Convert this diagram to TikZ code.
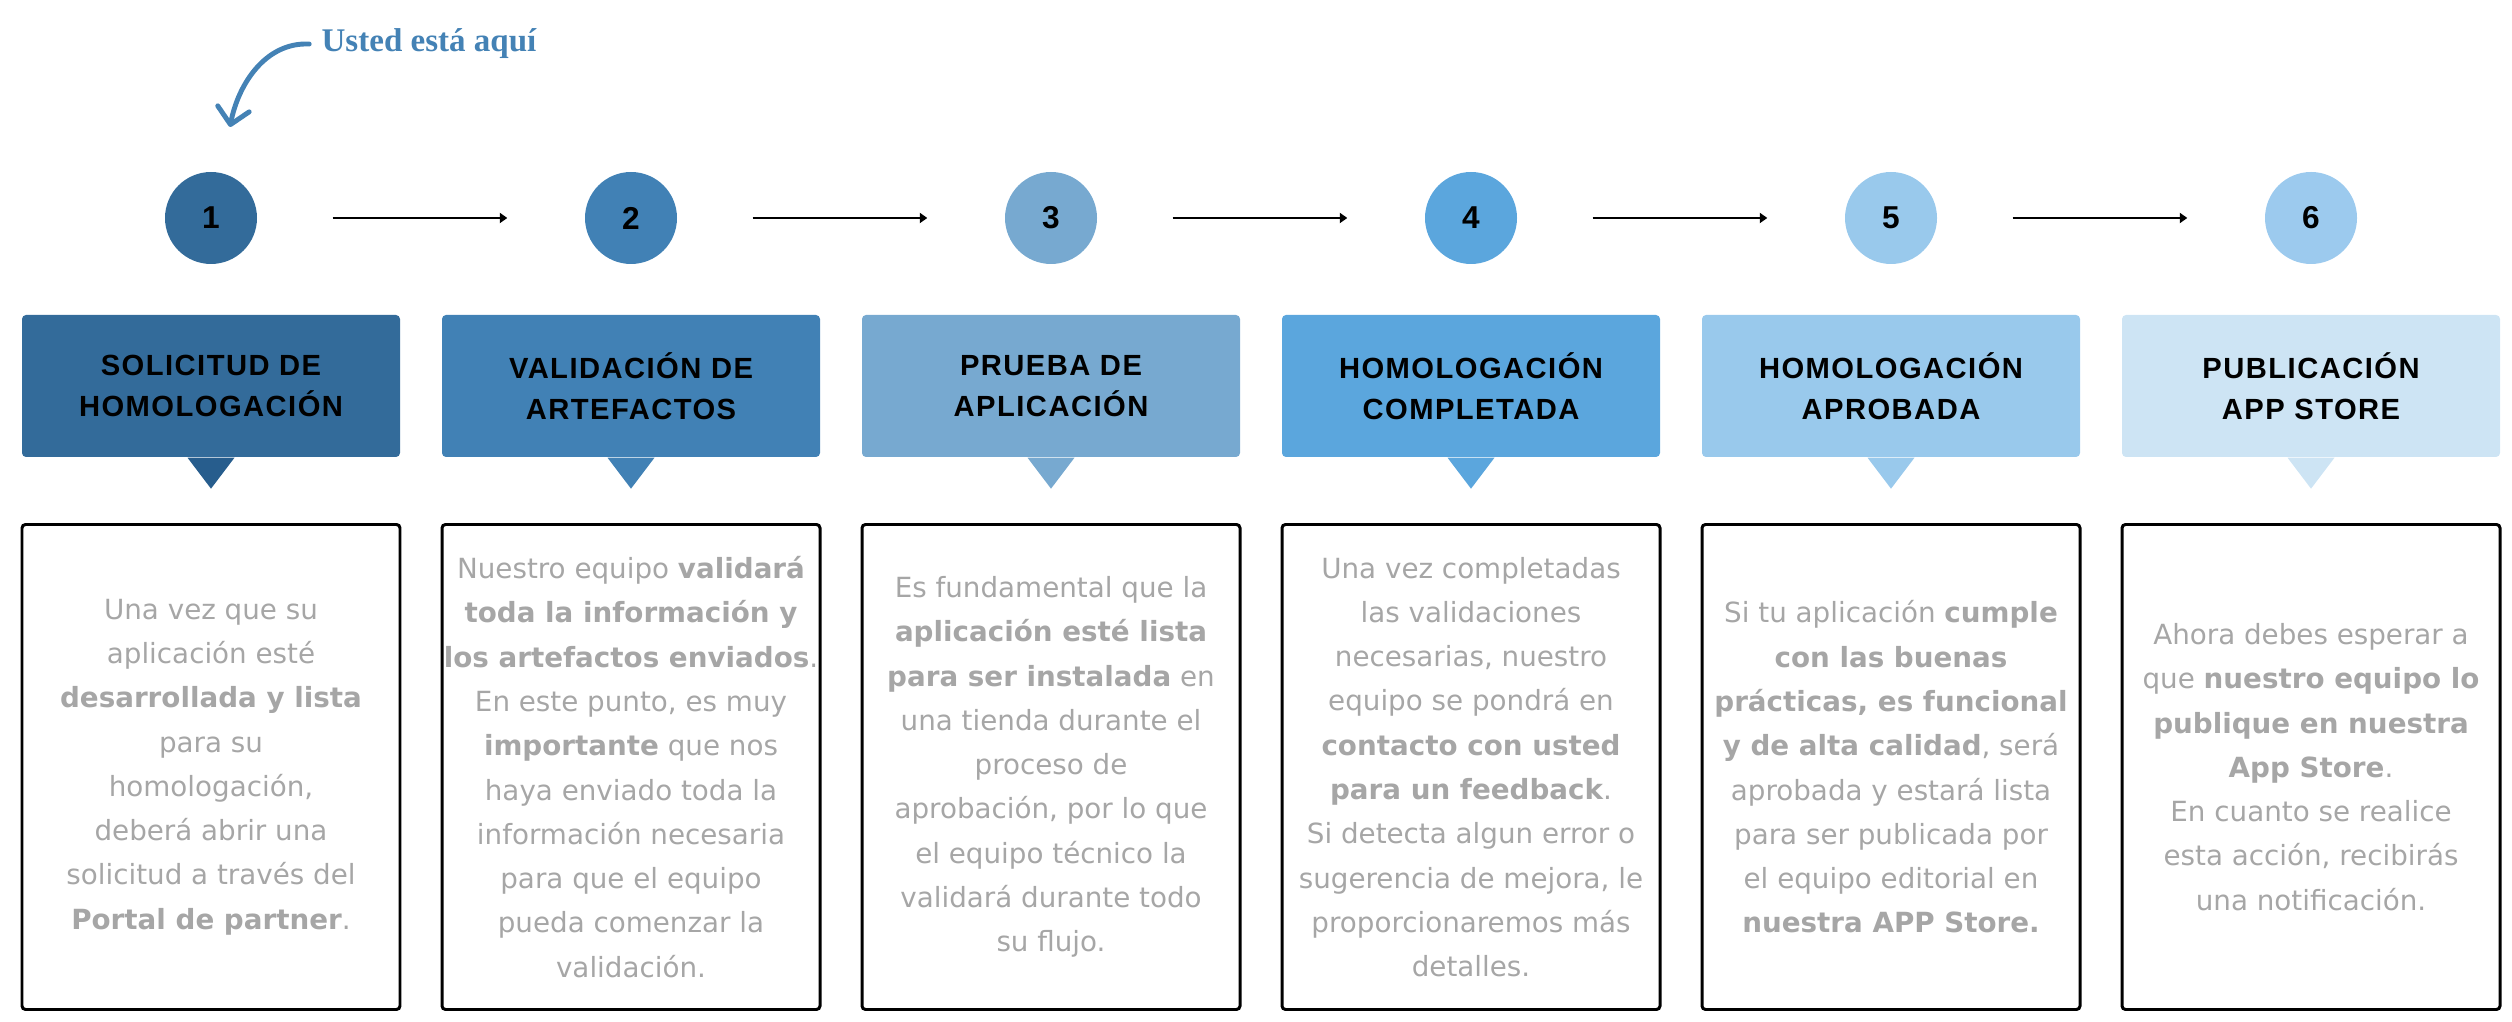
\documentclass[tikz,border=0pt]{standalone}
\usepackage{fontspec}
\setmainfont{DejaVu Sans}
\newfontfamily\headfont[LetterSpace=5]{Liberation Sans}
\newfontfamily\numfont{Liberation Sans}
\newfontfamily\notefont{Liberation Serif}
\usetikzlibrary{arrows.meta}

\definecolor{st1}{HTML}{336B9A}
\definecolor{st1p}{HTML}{275D8D}
\definecolor{st2}{HTML}{4181B5}
\definecolor{st3}{HTML}{77A9D0}
\definecolor{st4}{HTML}{5BA6DD}
\definecolor{st5}{HTML}{99C9EC}
\definecolor{st6}{HTML}{CDE4F4}
\definecolor{st6c}{HTML}{9CCAEE}
\definecolor{txtgray}{HTML}{A6A6A6}
\definecolor{notecol}{HTML}{4482B5}

\tikzset{
  num/.style={circle, minimum size=9.2mm, inner sep=0pt,
    font=\numfont\bfseries\fontsize{9}{9}\selectfont},
  head/.style={minimum width=37.8mm, minimum height=14.2mm, rounded corners=0.4mm,
    inner sep=0pt, align=center, font=\headfont\bfseries\fontsize{8.3}{11.7}\selectfont},
  info/.style={draw=black, line width=0.85pt, rounded corners=0.35mm, minimum width=37.8mm,
    minimum height=48.5mm, inner sep=0pt, align=center, text=txtgray,
    font=\fontsize{7.9}{12.6}\selectfont},
  flow/.style={-{Triangle[length=0.75mm,width=1mm]}, line width=0.65pt,
    shorten <=7.5mm, shorten >=7.7mm},
  notearrow/.style={-{Straight Barb[length=1.6mm,width=3.2mm,round]}, line width=1.4pt,
    line cap=round, draw=notecol},
}

\begin{document}
\begin{tikzpicture}[x=0.1mm, y=-0.1mm]
  \useasboundingbox (0,0) rectangle (2512,1022);

  \node[font=\notefont\bfseries\fontsize{9.4}{9.4}\selectfont, text=notecol, anchor=base] (usted) at (429,52) {Usted está aquí};
  \coordinate (tip) at (230,127);
  \draw[notearrow] (usted.west) .. controls (265,42) and (238,85) .. (tip);

  \foreach \c [count=\i from 1] in {st1,st2,st3,st4,st5,st6c} {\node[num, fill=\c] (n\i) at ({211+420*(\i-1)},218) {\i};}
  \foreach \i [evaluate=\i as \j using int(\i+1)] in {1,...,5} {\draw[flow] (n\i) -- (n\j);}

  \foreach \c/\p/\h [count=\i from 1] in {st1/st1p/{SOLICITUD DE\\HOMOLOGACIÓN}, st2/st2/{VALIDACIÓN DE\\ARTEFACTOS},
      st3/st3/{PRUEBA DE\\APLICACIÓN}, st4/st4/{HOMOLOGACIÓN\\COMPLETADA}, st5/st5/{HOMOLOGACIÓN\\APROBADA},
      st6/st6/{PUBLICACIÓN\\APP STORE}} {
    \node[head, fill=\c] (h\i) at ({211+420*(\i-1)},386) {\h};
    \fill[\p] ([xshift=-2.35mm]h\i.south) -- ([xshift=2.35mm]h\i.south) -- ([yshift=-3.1mm]h\i.south) -- cycle;
  }

  \node[info] (t1) at (211,767) {Una vez que su\\aplicación esté\\\textbf{desarrollada y lista}\\para su\\homologación,\\deberá abrir una\\solicitud a través del\\\textbf{Portal de partner}.};
  \node[info] (t2) at (631,767) {Nuestro equipo \textbf{validará}\\\textbf{toda la información y}\\\textbf{los artefactos enviados}.\\En este punto, es muy\\\textbf{importante} que nos\\haya enviado toda la\\información necesaria\\para que el equipo\\pueda comenzar la\\validación.};
  \node[info] (t3) at (1051,767) {Es fundamental que la\\\textbf{aplicación esté lista}\\\textbf{para ser instalada} en\\una tienda durante el\\proceso de\\aprobación, por lo que\\el equipo técnico la\\validará durante todo\\su flujo.};
  \node[info] (t4) at (1471,767) {Una vez completadas\\las validaciones\\necesarias, nuestro\\equipo se pondrá en\\\textbf{contacto con usted}\\\textbf{para un feedback}.\\Si detecta algun error o\\sugerencia de mejora, le\\proporcionaremos más\\detalles.};
  \node[info] (t5) at (1891,767) {Si tu aplicación \textbf{cumple}\\\textbf{con las buenas}\\\textbf{prácticas, es funcional}\\\textbf{y de alta calidad}, será\\aprobada y estará lista\\para ser publicada por\\el equipo editorial en\\\textbf{nuestra APP Store.}};
  \node[info] (t6) at (2311,767) {Ahora debes esperar a\\que \textbf{nuestro equipo lo}\\\textbf{publique en nuestra}\\\textbf{App Store}.\\En cuanto se realice\\esta acción, recibirás\\una notificación.};
\end{tikzpicture}
\end{document}
